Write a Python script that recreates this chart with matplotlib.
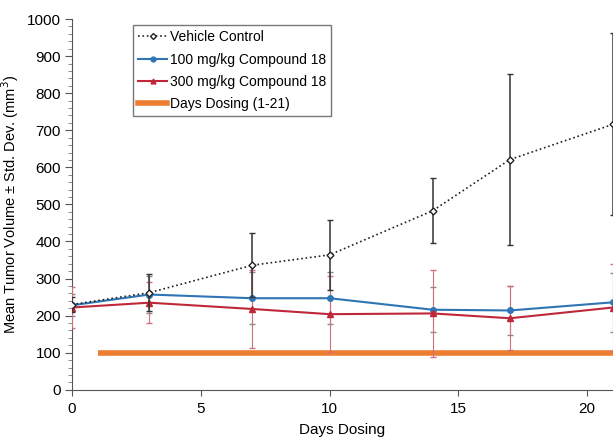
import numpy as np
import matplotlib.pyplot as plt
from matplotlib.ticker import MultipleLocator
from matplotlib.lines import Line2D

plt.rcParams['font.family'] = ['Liberation Sans', 'DejaVu Sans']

days = [0, 3, 7, 10, 14, 17, 21]
vehicle = [230, 262, 336, 364, 483, 621, 716]
vehicle_sd = [20, 50, 87, 95, 88, 230, 245]
dose100 = [228, 257, 247, 247, 216, 214, 236]
dose100_sd = [30, 50, 70, 70, 60, 65, 80]
dose300 = [222, 235, 218, 204, 206, 193, 222]
dose300_sd = [55, 55, 104, 102, 117, 86, 118]
dosing_days = [1, 21]
dosing_level = [100, 100]

fig = plt.figure(figsize=(6.13, 4.38), dpi=100)
ax = fig.add_axes([0.1175, 0.11, 0.8825, 0.8466])

ax.errorbar(days, vehicle, yerr=vehicle_sd, color='#222222', ls=':', lw=1.2,
            marker='D', ms=3.5, mfc='white', mec='#222222', mew=1,
            ecolor='#333333', elinewidth=1.1, capsize=2, zorder=4)
ax.errorbar(days, dose100, yerr=dose100_sd, color='#2f75b5', lw=1.5,
            marker='o', ms=4, ecolor='#8a8a8a', elinewidth=0.8, capsize=2, zorder=3)
ax.errorbar(days, dose300, yerr=dose300_sd, color='#c0283a', lw=1.5,
            marker='^', ms=4, ecolor='#d0707a', elinewidth=0.8, capsize=2, zorder=3)
ax.plot(dosing_days, dosing_level, color='#ed7d31', lw=4, solid_capstyle='butt', zorder=2)

ax.set_xlim(0, 21)
ax.set_ylim(0, 1000)
ax.xaxis.set_major_locator(MultipleLocator(5))
ax.yaxis.set_major_locator(MultipleLocator(100))
ax.yaxis.set_minor_locator(MultipleLocator(20))
ax.tick_params(axis='x', which='major', labelsize=11, length=4, color='#555555', pad=5)
ax.tick_params(axis='y', which='major', labelsize=11, length=5, color='#555555', pad=3)
ax.tick_params(axis='y', which='minor', length=3, color='#777777')
for s in ['top', 'right']:
    ax.spines[s].set_visible(False)
for s in ['left', 'bottom']:
    ax.spines[s].set_color('#555555')

ax.set_xlabel('Days Dosing', fontsize=11, labelpad=5)
ax.set_ylabel('Mean Tumor Volume ± Std. Dev. (mm$^3$)', fontsize=10.5, labelpad=4)

handles = [
    Line2D([], [], color='#222222', ls=':', lw=1.2, marker='D', ms=3, mfc='white', mec='#222222'),
    Line2D([], [], color='#2f75b5', lw=1.5, marker='o', ms=3.5),
    Line2D([], [], color='#c0283a', lw=1.5, marker='^', ms=3.5),
    Line2D([], [], color='#ed7d31', lw=4),
]
labels = ['Vehicle Control', '100 mg/kg Compound 18', '300 mg/kg Compound 18', 'Days Dosing (1-21)']
leg = ax.legend(handles, labels, loc='upper left', bbox_to_anchor=(0.113, 0.983), fontsize=10,
                frameon=True, fancybox=False, edgecolor='#555555',
                handlelength=2.1, handletextpad=0.2, borderpad=0.35, labelspacing=0.6,
                borderaxespad=0)
leg.get_frame().set_linewidth(1.0)

plt.savefig('out.png', dpi=100)
